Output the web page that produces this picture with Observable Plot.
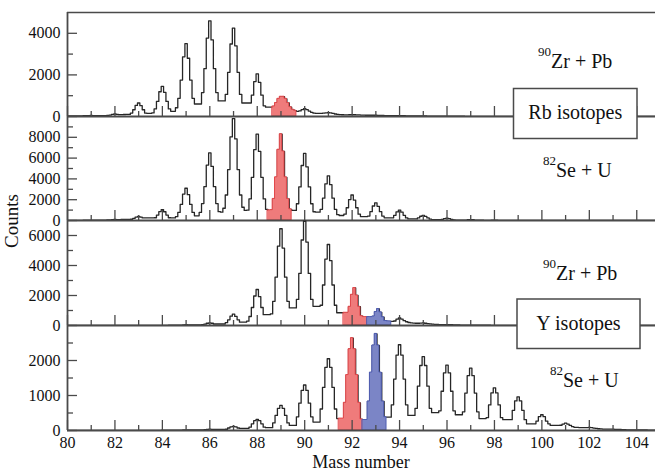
<!DOCTYPE html>
<html><head><meta charset="utf-8">
<script src="https://cdn.jsdelivr.net/npm/d3@7"></script>
<script src="https://cdn.jsdelivr.net/npm/@observablehq/plot@0.6"></script>
<style>
body{margin:0;background:#fff;}
#chart{position:relative;width:655px;height:470px;overflow:hidden;font-family:"Liberation Serif","Times New Roman",serif;background:#fff;}
#chart svg{position:absolute;left:0;}
#chart svg text{font-family:"Liberation Serif","Times New Roman",serif !important;}
</style>
</head><body>
<div id="chart"></div>
<script>
// Bin rows: one row per mass number m (80..105); each row holds the counts of the
// 0.1-wide bins centred at m-0.5, m-0.4, ..., m+0.4
const startMass = 80;

const zrPbRb = [
 [20,20,20,25,25,30,30,30,30,30],
 [30,30,35,40,45,50,45,40,40,40],
 [40,45,50,70,100,120,100,90,90,95],
 [100,100,163,325,533,650,520,325,163,150],
 [150,174,363,725,1189,1450,1160,725,363,250],
 [250,420,875,1750,2870,3500,2800,1750,875,600],
 [600,600,1150,2300,3772,4600,3680,2300,1150,750],
 [750,750,1063,2125,3485,4250,3400,2125,1063,650],
 [650,650,650,1025,1681,2050,1640,1025,513,450],
 [450,450,480,650,850,950,950,850,650,450],
 [330,280,250,270,330,380,330,260,200,160],
 [150,150,150,160,175,180,170,150,120,100],
 [90,85,80,80,85,90,85,80,75,70],
 [65,60,60,60,60,60,55,50,50,45],
 [45,40,40,40,40,40,35,35,30,30],
 [30,30,25,25,25,25,25,20,20,20],
 [20,20,20,20,15,15,15,15,15,15],
 [15,15,15,10,10,10,10,10,10,10],
 [10,10,10,10,10,10,10,10,10,10],
 [10,10,10,10,10,8,8,8,8,8],
 [8,8,8,8,8,6,6,6,6,6],
 [6,6,6,6,6,5,5,5,5,5],
 [5,5,5,5,5,5,5,5,5,5],
 [5,5,5,5,5,5,5,5,5,5],
 [5,5,5,5,5,5,5,5,5,5],
 [5,5,5,5,5,5,5,5,5,5]
];

const seURb = [
 [20,20,20,20,20,20,20,20,20,20],
 [20,20,25,25,30,30,30,30,35,35],
 [40,40,50,60,80,100,90,90,100,100],
 [100,100,120,200,328,400,320,250,250,250],
 [250,250,263,525,861,1050,840,525,263,250],
 [250,372,775,1550,2542,3100,2480,1550,775,450],
 [450,780,1625,3250,5330,6500,5200,3250,1625,845],
 [800,1176,2450,4900,8036,9800,7840,4900,2450,1274],
 [970,996,2075,4150,6806,8300,6640,4150,2075,1079],
 [970,996,2075,4150,6806,8300,6640,4150,2075,1079],
 [970,970,1613,3225,5289,6450,5160,3225,1613,839],
 [800,800,1075,2150,3526,4300,3440,2150,1075,559],
 [480,480,613,1225,2009,2450,1960,1225,613,380],
 [380,380,425,850,1394,1700,1360,850,425,260],
 [260,260,260,500,820,1000,800,500,250,150],
 [150,150,150,250,410,500,400,250,130,80],
 [80,80,80,110,180,220,180,110,60,40],
 [40,35,35,45,75,90,75,45,30,25],
 [25,20,20,20,25,30,25,20,15,15],
 [15,15,15,15,15,15,12,12,10,10],
 [10,10,10,10,10,10,10,10,10,10],
 [8,8,8,8,8,8,8,8,8,8],
 [6,6,6,6,6,6,6,6,6,6],
 [5,5,5,5,5,5,5,5,5,5],
 [5,5,5,5,5,5,5,5,5,5],
 [5,5,5,5,5,5,5,5,5,5]
];

const zrPbY = [
 [5,5,5,5,5,5,5,5,5,5],
 [5,5,5,5,5,5,5,5,5,5],
 [5,5,5,5,5,5,5,5,5,5],
 [5,5,5,5,5,5,5,5,5,5],
 [10,10,10,10,15,15,15,15,20,20],
 [20,20,25,30,40,50,45,40,40,40],
 [40,45,60,90,150,180,150,100,100,100],
 [100,100,190,380,623,760,608,380,220,220],
 [220,288,600,1200,1968,2400,1920,1200,720,720],
 [720,774,1613,3225,5289,6450,5160,3225,1613,1170],
 [1170,1170,1738,3475,5699,6950,5560,3475,1738,1280],
 [1280,1280,1350,2700,4428,5400,4320,2700,1350,850],
 [850,850,850,850,1250,2050,2500,2000,1250,625],
 [560,560,560,560,600,902,1100,880,550,300],
 [280,270,270,300,420,500,430,320,250,200],
 [180,160,150,150,160,170,150,130,110,90],
 [80,70,60,60,60,60,55,50,45,40],
 [35,30,30,30,30,30,25,25,25,20],
 [20,20,20,20,15,15,15,15,15,15],
 [10,10,10,10,10,10,10,10,10,10],
 [8,8,8,8,8,8,8,8,8,8],
 [6,6,6,6,6,6,6,6,6,6],
 [5,5,5,5,5,5,5,5,5,5],
 [5,5,5,5,5,5,5,5,5,5],
 [5,5,5,5,5,5,5,5,5,5],
 [5,5,5,5,5,5,5,5,5,5]
];

const seUY = [
 [5,5,5,5,5,5,5,5,5,5],
 [5,5,5,5,5,5,5,5,5,5],
 [5,5,5,5,5,5,5,5,5,5],
 [5,5,5,5,5,5,5,5,5,5],
 [5,5,5,5,5,8,8,8,10,10],
 [10,10,10,10,15,20,15,15,15,15],
 [15,15,20,25,35,40,35,30,30,30],
 [30,30,36,72,106,120,106,72,60,60],
 [60,60,96,192,282,320,282,192,96,80],
 [80,80,216,432,634,720,634,432,216,145],
 [145,145,390,780,1144,1300,1144,780,390,240],
 [240,240,615,1230,1804,2050,1804,1230,615,340],
 [340,340,792,1584,2323,2640,2323,1584,792,317],
 [300,300,828,1656,2429,2760,2429,1656,828,380],
 [380,380,735,1470,2156,2450,2156,1470,735,430],
 [430,430,633,1266,1857,2110,1857,1266,633,510],
 [510,510,561,1122,1646,1870,1646,1122,561,450],
 [450,450,534,1068,1566,1780,1566,1068,534,340],
 [340,340,366,732,1074,1220,1074,732,366,310],
 [310,310,310,576,845,960,845,576,310,190],
 [190,190,190,270,396,450,396,270,190,145],
 [145,145,145,150,185,210,185,145,110,90],
 [90,85,80,80,85,90,80,70,60,50],
 [45,40,40,40,40,40,35,30,30,25],
 [25,20,20,20,20,20,18,15,15,15],
 [12,10,10,10,10,10,10,10,10,10]
];

const xDomain = [80, 104.79];
const xMajor = [80,82,84,86,88,90,92,94,96,98,100,102,104];
const xMinor = [81,83,85,87,89,91,93,95,97,99,101,103];

const labelsTop = ["90", "82", "90", "82"];
const labelsRest = ["Zr + Pb", "Se + U", "Zr + Pb", "Se + U"];
const boxLabels = ["Rb isotopes", "Y isotopes"];
const xTitle = "Mass number";
const yTitle = "Counts";

const RED = {fill: "#ef7b7b", stroke: "#e4484b"};
const BLUE = {fill: "#7b85c6", stroke: "#4f5db2"};

const panels = [
  {rows: zrPbRb, ymax: 5000, yMajor: [0,2000,4000], yMinor: [1000,3000], top: 12, bottom: 116,
   hl: [{lo: 88.65, hi: 89.65, ...RED}]},
  {rows: seURb, ymax: 10000, yMajor: [0,2000,4000,6000,8000], yMinor: [1000,3000,5000,7000,9000], top: 116, bottom: 220,
   hl: [{lo: 88.45, hi: 89.45, ...RED}]},
  {rows: zrPbY, ymax: 7000, yMajor: [0,2000,4000,6000], yMinor: [1000,3000,5000], top: 220, bottom: 325,
   hl: [{lo: 91.65, hi: 92.65, ...RED}, {lo: 92.65, hi: 93.65, ...BLUE}]},
  {rows: seUY, ymax: 3000, yMajor: [0,1000,2000], yMinor: [500,1500,2500], top: 325, bottom: 430,
   hl: [{lo: 91.45, hi: 92.45, ...RED}, {lo: 92.45, hi: 93.45, ...BLUE}]}
];

function toBins(rows) {
  const out = [];
  rows.forEach((r, i) => {
    const m = startMass + i;
    r.forEach((v, j) => out.push({x: +(m + (j - 5) / 10).toFixed(2), y: v}));
  });
  return out;
}

const chart = document.getElementById("chart");
const W = 655, ML = 67, MR = 0;
const plotW = W - ML - MR;
const axisColor = "#4a4a4a";
const FONT = '"Liberation Serif", "Times New Roman", serif';

panels.forEach((p, i) => {
  const mt = 12, mb = i === 3 ? 44 : 12;
  const h = p.bottom - p.top;
  const data = toBins(p.rows);
  const marks = [];
  marks.push(Plot.line(data, {x: "x", y: "y", curve: "step", stroke: "#262626", strokeWidth: 1.3, clip: true}));
  p.hl.forEach(hl => {
    const sel = data.filter(d => d.x > hl.lo && d.x < hl.hi);
    const pts = sel.map(d => ({x: d.x - 0.05, y: d.y}));
    pts.push({x: sel[sel.length - 1].x + 0.05, y: sel[sel.length - 1].y});
    marks.push(Plot.areaY(pts, {x: "x", y: "y", curve: "step-after", fill: hl.fill, stroke: hl.stroke, strokeWidth: 1}));
  });
  // inward ticks
  marks.push(Plot.tickY(p.yMajor, {y: d => d, insetRight: plotW - 10, stroke: axisColor, strokeWidth: 1.3}));
  marks.push(Plot.tickY(p.yMinor, {y: d => d, insetRight: plotW - 6, stroke: axisColor, strokeWidth: 1.3}));
  marks.push(Plot.tickX(xMajor, {x: d => d, insetTop: h - 10, stroke: axisColor, strokeWidth: 1.3}));
  marks.push(Plot.tickX(xMinor, {x: d => d, insetTop: h - 5, stroke: axisColor, strokeWidth: 1.3}));
  // frame
  marks.push(Plot.ruleY([0], {stroke: axisColor, strokeWidth: 1.8}));
  marks.push(Plot.ruleX([xDomain[0]], {stroke: axisColor, strokeWidth: 1.8}));
  if (i === 0) marks.push(Plot.ruleY([p.ymax], {stroke: axisColor, strokeWidth: 1.6}));
  marks.push(Plot.axisY({ticks: p.yMajor, tickSize: 0, tickPadding: 7, tickFormat: "d", label: null, fontSize: 16}));
  if (i === 3) marks.push(Plot.axisX({ticks: xMajor, tickSize: 0, tickPadding: 6, tickFormat: "d", label: null, fontSize: 16}));

  const svg = Plot.plot({
    width: W, height: h + mt + mb,
    marginLeft: ML, marginRight: MR, marginTop: mt, marginBottom: mb,
    x: {domain: xDomain, axis: null},
    y: {domain: [0, p.ymax], axis: null},
    style: {background: "transparent", overflow: "visible", fontFamily: FONT, fontSize: "16px", color: "#111"},
    marks
  });
  svg.style.top = (p.top - mt) + "px";
  svg.setAttribute("font-family", FONT);
  svg.querySelectorAll("text").forEach(t => { t.style.fontFamily = FONT; t.setAttribute("fill", "#111"); });
  chart.appendChild(svg);
});

// annotation overlay
const NS = "http://www.w3.org/2000/svg";
const ov = document.createElementNS(NS, "svg");
ov.setAttribute("width", W); ov.setAttribute("height", 470);
ov.style.top = "0px";
ov.style.fontFamily = FONT;
function el(tag, attrs, parent) {
  const e = document.createElementNS(NS, tag);
  for (const k in attrs) e.setAttribute(k, attrs[k]);
  (parent || ov).appendChild(e);
  return e;
}
const labelPos = [[538, 68], [543, 177], [543, 280], [550, 387]];
labelPos.forEach(([x, y], i) => {
  const t = el("text", {x, y, "font-size": 20, fill: "#111"});
  const s = el("tspan", {"font-size": 13, dy: -12}, t); s.textContent = labelsTop[i];
  const r = el("tspan", {dy: 12}, t); r.textContent = labelsRest[i];
});
const boxes = [[513.5, 88.5, 123.5, 50, 119], [517, 299, 123, 49.5, 330]];
boxes.forEach(([x, y, w, h, by], i) => {
  el("rect", {x, y, width: w, height: h, fill: "#fff", stroke: "#4a4a4a", "stroke-width": 1.5});
  const t = el("text", {x: x + w / 2, y: by, "font-size": 20, "text-anchor": "middle", fill: "#111"});
  t.textContent = boxLabels[i];
});
const xt = el("text", {x: 361, y: 468, "font-size": 18, "text-anchor": "middle", fill: "#111"});
xt.textContent = xTitle;
const yt = el("text", {x: 0, y: 0, "font-size": 19, "text-anchor": "middle", fill: "#111", transform: "translate(18,221) rotate(-90)"});
yt.textContent = yTitle;
chart.appendChild(ov);
</script>
</body></html>
